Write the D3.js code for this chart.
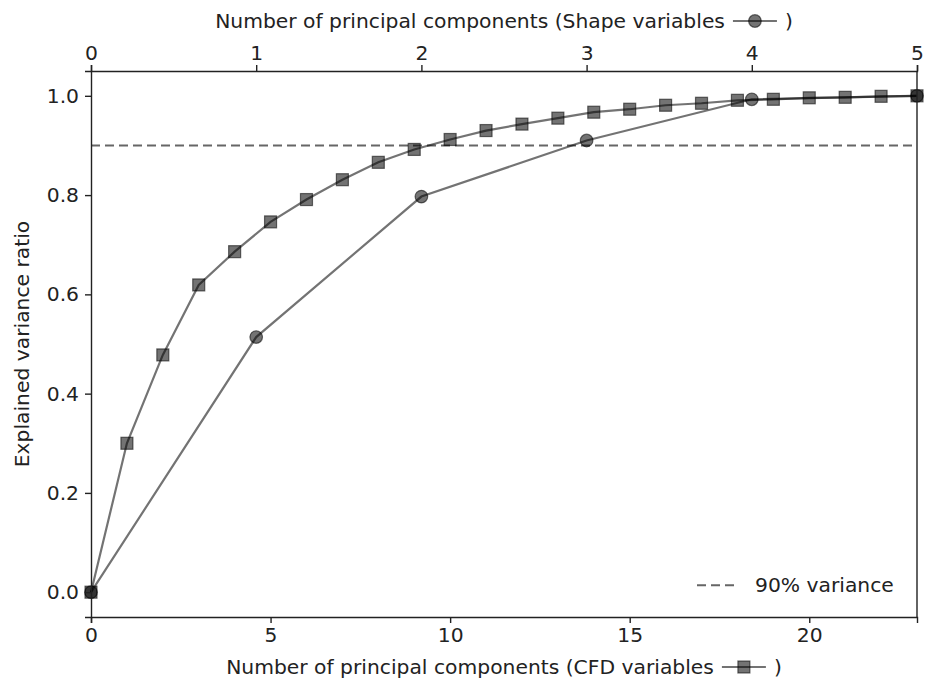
<!DOCTYPE html>
<html>
<head>
<meta charset="utf-8">
<script src="https://cdn.jsdelivr.net/npm/d3@7"></script>
<style>
  body { margin: 0; background: #fff; }
  svg { font-family: "DejaVu Sans", sans-serif; }
</style>
</head>
<body>
<svg id="chart" width="928" height="682"></svg>
<script>
// cumulative explained variance, CFD variables (bottom axis)
const cfdComponents = d3.range(0, 24);
const cfdVariance = [0.0, 0.300, 0.478, 0.619, 0.686, 0.746, 0.791, 0.831, 0.866, 0.892,
                     0.912, 0.930, 0.943, 0.955, 0.967, 0.973, 0.981, 0.985, 0.991, 0.993,
                     0.996, 0.997, 0.999, 1.0];

// cumulative explained variance, Shape variables (top axis)
const shapeComponents = [0, 1, 2, 3, 4, 5];
const shapeVariance = [0.0, 0.514, 0.797, 0.910, 0.993, 1.0];

const threshold = 0.9;
const yTicks = [0.0, 0.2, 0.4, 0.6, 0.8, 1.0];
const bottomTicks = [0, 5, 10, 15, 20];
const topTicks = [0, 1, 2, 3, 4, 5];

const margin = { top: 71, right: 11, bottom: 65, left: 91 };
const width = 928, height = 682;

const svg = d3.select('#chart');

const x = d3.scaleLinear().domain([0, 23]).range([margin.left, width - margin.right]);
const xTop = d3.scaleLinear().domain([0, 5]).range([margin.left, width - margin.right]);
const y = d3.scaleLinear().domain([-0.05, 1.05]).range([height - margin.bottom, margin.top]);

const ink = '#222';
const markColor = 'rgba(0,0,0,0.55)';
const fontSize = 20.3;

// threshold line
svg.append('line')
    .attr('x1', x(0)).attr('x2', x(23))
    .attr('y1', y(threshold)).attr('y2', y(threshold))
    .attr('stroke', '#666')
    .attr('stroke-width', 2)
    .attr('stroke-dasharray', '9,5');

const line = d3.line();

function drawSeries(xs, ys, xScale, marker) {
    const pts = xs.map((v, i) => [xScale(v), y(ys[i])]);
    const g = svg.append('g');
    g.append('path')
        .attr('d', line(pts))
        .attr('fill', 'none')
        .attr('stroke', markColor)
        .attr('stroke-width', 2.2);
    g.selectAll('.m')
        .data(pts)
        .enter()
        .append(marker === 'square' ? 'rect' : 'circle')
        .each(function (d) {
            const el = d3.select(this);
            if (marker === 'square') {
                el.attr('x', d[0] - 6).attr('y', d[1] - 6).attr('width', 12).attr('height', 12);
            } else {
                el.attr('cx', d[0]).attr('cy', d[1]).attr('r', 6.3);
            }
        })
        .attr('fill', markColor)
        .attr('stroke', markColor)
        .attr('stroke-width', 1.2);
}

drawSeries(cfdComponents, cfdVariance, x, 'square');
drawSeries(shapeComponents, shapeVariance, xTop, 'circle');

// axes
const axisStyle = g => {
    g.selectAll('path, line').attr('stroke', ink).attr('stroke-width', 1.4);
    g.selectAll('text').attr('fill', ink).attr('font-size', fontSize)
        .attr('font-family', '"DejaVu Sans", sans-serif');
};

svg.append('g')
    .attr('transform', `translate(0,${height - margin.bottom})`)
    .call(d3.axisBottom(x).tickValues(bottomTicks).tickFormat(d3.format('d'))
        .tickSizeOuter(0).tickSize(6).tickPadding(5))
    .call(axisStyle);

svg.append('g')
    .attr('transform', `translate(0,${margin.top})`)
    .call(d3.axisTop(xTop).tickValues(topTicks).tickFormat(d3.format('d'))
        .tickSizeOuter(0).tickSize(6).tickPadding(5))
    .call(axisStyle);

svg.append('g')
    .attr('transform', `translate(${margin.left},0)`)
    .call(d3.axisLeft(y).tickValues(yTicks).tickFormat(d3.format('.1f'))
        .tickSizeOuter(0).tickSize(6).tickPadding(6))
    .call(axisStyle);

svg.append('line')
    .attr('x1', width - margin.right).attr('x2', width - margin.right)
    .attr('y1', margin.top).attr('y2', height - margin.bottom)
    .attr('stroke', ink).attr('stroke-width', 1.4);

// y label
svg.append('text')
    .attr('transform', `translate(29,${(margin.top + height - margin.bottom) / 2}) rotate(-90)`)
    .attr('text-anchor', 'middle')
    .attr('font-size', fontSize)
    .attr('fill', ink)
    .text('Explained variance ratio');

// axis titles with an inline line+marker glyph
function titleWithGlyph(label, baseline, marker) {
    const g = svg.append('g');
    const t1 = g.append('text').attr('font-size', fontSize).attr('fill', ink)
        .attr('y', baseline).text(label);
    const w1 = t1.node().getComputedTextLength();
    const glyphW = 44, gap = 8;
    const t2 = g.append('text').attr('font-size', fontSize).attr('fill', ink)
        .attr('y', baseline).text(')');
    const w2 = t2.node().getComputedTextLength();
    const total = w1 + gap + glyphW + gap + w2;
    const x0 = (margin.left + width - margin.right) / 2 - total / 2;
    t1.attr('x', x0);
    const gx = x0 + w1 + gap, gy = baseline - 7;
    g.append('line').attr('x1', gx).attr('x2', gx + glyphW)
        .attr('y1', gy).attr('y2', gy)
        .attr('stroke', markColor).attr('stroke-width', 2.2);
    if (marker === 'square') {
        g.append('rect').attr('x', gx + glyphW / 2 - 6).attr('y', gy - 6)
            .attr('width', 12).attr('height', 12)
            .attr('fill', markColor).attr('stroke', markColor).attr('stroke-width', 1.2);
    } else {
        g.append('circle').attr('cx', gx + glyphW / 2).attr('cy', gy).attr('r', 6.3)
            .attr('fill', markColor).attr('stroke', markColor).attr('stroke-width', 1.2);
    }
    t2.attr('x', gx + glyphW + gap);
}

titleWithGlyph('Number of principal components (CFD variables', 674, 'square');
titleWithGlyph('Number of principal components (Shape variables', 28, 'circle');

// legend
const legend = svg.append('g').attr('transform', `translate(697,${y(0)})`);
legend.append('line')
    .attr('x1', 0).attr('x2', 42).attr('y1', -7).attr('y2', -7)
    .attr('stroke', '#666').attr('stroke-width', 2).attr('stroke-dasharray', '9,5');
legend.append('text')
    .attr('x', 58).attr('y', 0)
    .attr('font-size', fontSize).attr('fill', ink)
    .text('90% variance');
</script>
</body>
</html>
